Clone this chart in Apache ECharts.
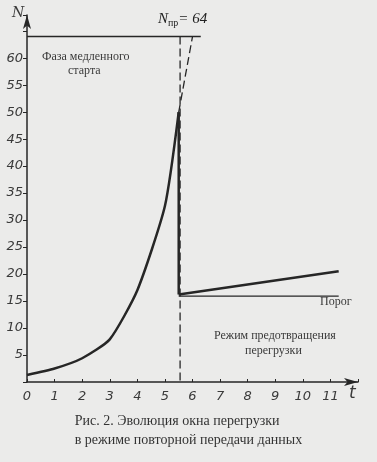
<!DOCTYPE html>
<html lang="ru">
<head>
    <meta charset="UTF-8" />
    <title>Эволюция окна перегрузки</title>
    <script src="https://cdn.jsdelivr.net/npm/echarts@6/dist/echarts.min.js"></script>
    <style>
        html, body { margin: 0; padding: 0; background: #ebebea; }
    </style>
</head>
<body>
    <div id="chart" style="width: 377px; height: 462px"></div>
    <script>
        // медленный старт: окно растёт почти экспоненциально
        var slowStart = [[0, 1.3], [1, 2.5], [2, 4.4], [3, 7.9], [4, 17], [5, 32.6], [5.5, 50]];
        // сброс окна до порога
        var drop = [[5.5, 50], [5.5, 16.2]];
        // режим предотвращения перегрузки: линейный рост
        var avoidance = [[5.5, 16.2], [11.3, 20.5]];
        var threshold = [[5.5, 15.9], [11.3, 15.9]];
        // предельное окно N_пр = 64
        var limit = [[0, 64], [6.3, 64]];
        var limitDash = [[5.55, 64], [5.55, 0]];
        var extrapolation = [[5.5, 50], [6.0, 64]];

        var xTicks = [0, 1, 2, 3, 4, 5, 6, 7, 8, 9, 10, 11];
        var yTicks = [5, 10, 15, 20, 25, 30, 35, 40, 45, 50, 55, 60];

        var ink = "#262626";
        var textColor = "#3a3a3a";

        var chart = echarts.init(document.getElementById("chart"));

        function lineSeries(data, width, dashed, smooth) {
            return {
                type: "line",
                data: data,
                symbol: "none",
                silent: true,
                animation: false,
                smooth: smooth || false,
                lineStyle: { color: ink, width: width, type: dashed ? [8, 4] : "solid" },
            };
        }

        var option = {
            backgroundColor: "#ebebea",
            grid: { left: 27, right: 19, top: 15, bottom: 80 },
            xAxis: {
                type: "value",
                min: 0,
                max: 12,
                interval: 1,
                axisLine: {
                    lineStyle: { color: ink, width: 1.5 },
                    symbol: ["none", "arrow"],
                    symbolSize: [6, 14],
                },
                axisTick: { show: true, length: 3, inside: true, lineStyle: { color: ink } },
                splitLine: { show: false },
                axisLabel: {
                    color: textColor,
                    fontStyle: "italic",
                    fontSize: 13,
                    fontFamily: "DejaVu Sans",
                    margin: 8,
                    formatter: function (v) { return xTicks.indexOf(v) >= 0 ? String(v) : ""; },
                },
            },
            yAxis: {
                type: "value",
                min: 0,
                max: 68,
                interval: 5,
                axisLine: {
                    lineStyle: { color: ink, width: 1.5 },
                    symbol: ["none", "arrow"],
                    symbolSize: [6, 14],
                },
                axisTick: { show: true, length: 4, lineStyle: { color: ink } },
                splitLine: { show: false },
                axisLabel: {
                    color: textColor,
                    fontStyle: "italic",
                    fontSize: 13,
                    fontFamily: "DejaVu Sans",
                    margin: 4,
                    formatter: function (v) { return yTicks.indexOf(v) >= 0 ? String(v) : ""; },
                },
            },
            series: [
                lineSeries(limitDash, 1.3, true),
                lineSeries(extrapolation, 1.3, true),
                lineSeries(limit, 1.5, false),
                lineSeries(threshold, 1.2, false),
                lineSeries(slowStart, 2.5, false, 0.2),
                lineSeries(drop, 2.5, false),
                lineSeries(avoidance, 2.5, false),
            ],
            graphic: [
                { type: "text", left: 12, top: 6, style: { text: "N", font: "italic 14px 'DejaVu Serif'", fill: textColor } },
                { type: "text", left: 349, top: 385, style: { text: "t", font: "italic 17px 'DejaVu Sans'", fill: textColor } },
                {
                    type: "text", left: 158, top: 12,
                    style: {
                        text: "{n|N}{s|пр}{n|= 64}",
                        fill: "#222",
                        rich: {
                            n: { font: "italic 15px 'Liberation Serif'", fill: "#222" },
                            s: { font: "10px 'Liberation Serif'", fill: "#222", padding: [8, 0, 0, 0] },
                        },
                    },
                },
                { type: "text", left: 42, top: 51, style: { text: "Фаза медленного", font: "12px 'Liberation Serif'", fill: textColor } },
                { type: "text", left: 68, top: 65, style: { text: "старта", font: "12px 'Liberation Serif'", fill: textColor } },
                { type: "text", left: 320, top: 296, style: { text: "Порог", font: "12px 'Liberation Serif'", fill: textColor } },
                { type: "text", left: 214, top: 330, style: { text: "Режим предотвращения", font: "12px 'Liberation Serif'", fill: textColor } },
                { type: "text", left: 245, top: 345, style: { text: "перегрузки", font: "12px 'Liberation Serif'", fill: textColor } },
                {
                    type: "text", left: "center", top: 412,
                    style: {
                        text: "Рис. 2. Эволюция окна перегрузки\nв режиме повторной передачи данных",
                        font: "14px 'Liberation Serif'",
                        lineHeight: 19,
                        align: "center",
                        fill: "#333",
                    },
                },
            ],
        };

        chart.setOption(option);
    </script>
</body>
</html>
